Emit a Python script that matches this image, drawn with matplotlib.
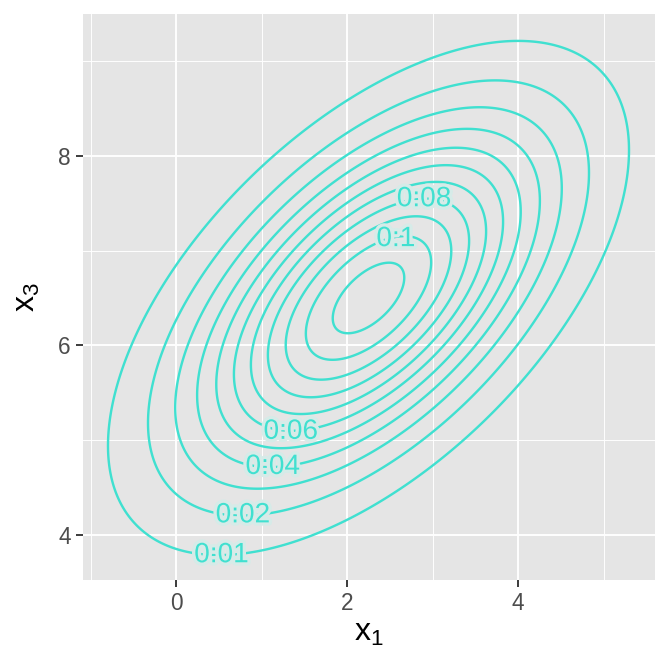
import numpy as np
import matplotlib.pyplot as plt
import matplotlib.patheffects as pe

plt.rcParams['font.family'] = ['Liberation Sans', 'DejaVu Sans']
plt.rcParams['mathtext.fontset'] = 'custom'
plt.rcParams['mathtext.rm'] = 'Liberation Sans'

# parametros de la normal bivariada (x1, x3)
media = [2.25, 6.5]
covarianza = [[1.9, 0.97], [0.97, 1.5]]
niveles = [0.01, 0.02, 0.03, 0.04, 0.05, 0.06, 0.07, 0.08, 0.09, 0.10, 0.11]

# etiquetas de contorno y donde van
etiquetas = ["0:01", "0:02", "0:04", "0:06", "0:08", "0:1"]
etiq_x = [0.53, 0.78, 1.13, 1.34, 2.90, 2.57]
etiq_y = [3.79, 4.21, 4.72, 5.09, 7.54, 7.12]

xticks = [0, 2, 4]
yticks = [4, 6, 8]

color = "#40E0D0"
fondo = "#E5E5E5"


def densidad(X, Y, mu, cov):
    cov = np.array(cov)
    inv = np.linalg.inv(cov)
    det = np.linalg.det(cov)
    dx = X - mu[0]
    dy = Y - mu[1]
    q = inv[0, 0]*dx**2 + 2*inv[0, 1]*dx*dy + inv[1, 1]*dy**2
    return np.exp(-q/2) / (2*np.pi*np.sqrt(det))


def main():
    x = np.linspace(-1.5, 6, 400)
    y = np.linspace(3, 10, 400)
    X, Y = np.meshgrid(x, y)
    Z = densidad(X, Y, media, covarianza)

    fig = plt.figure(figsize=(7, 7), dpi=96)
    ax = fig.add_axes([0.1235, 0.137, 0.851, 0.842])
    ax.set_facecolor(fondo)

    # grilla tipo ggplot
    for v in [-1, 1, 3, 5]:
        ax.axvline(v, color="white", lw=0.7, zorder=0)
    for v in [5, 7, 9]:
        ax.axhline(v, color="white", lw=0.7, zorder=0)
    for v in xticks:
        ax.axvline(v, color="white", lw=1.4, zorder=0)
    for v in yticks:
        ax.axhline(v, color="white", lw=1.4, zorder=0)

    ax.contour(X, Y, Z, levels=niveles, colors=color, linewidths=1.8)

    for t, px, py in zip(etiquetas, etiq_x, etiq_y):
        ax.text(px, py, t, color=color, fontsize=21, ha="center", va="center",
                path_effects=[pe.withStroke(linewidth=5, foreground="#D6EBE8")])

    ax.set_xlim(-1.09, 5.6)
    ax.set_ylim(3.53, 9.49)
    ax.set_xticks(xticks)
    ax.set_yticks(yticks)
    ax.tick_params(colors="#333333", labelcolor="#4D4D4D", labelsize=17,
                   length=5, width=1.4, pad=4)
    for s in ax.spines.values():
        s.set_visible(False)
    ax.set_xlabel(r"$\mathregular{x_1}$", fontsize=24, labelpad=2)
    ax.set_ylabel(r"$\mathregular{x_3}$", fontsize=24, labelpad=12)

    fig.savefig("out.png", dpi=96)


if __name__ == "__main__":
    main()
